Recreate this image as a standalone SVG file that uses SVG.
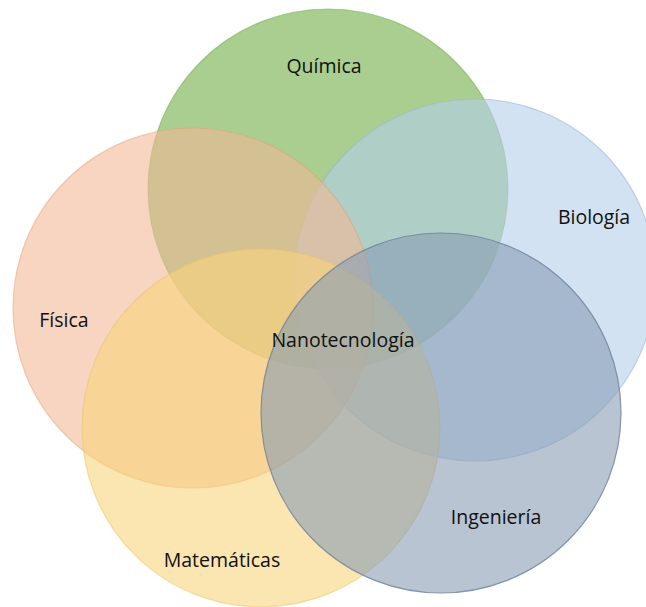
<svg xmlns="http://www.w3.org/2000/svg" width="646" height="607" viewBox="0 0 646 607">
  <style>
    .c { stroke-width: 1.2; }
    .lbl { font-family: "Open Sans", "Liberation Sans", sans-serif; font-size: 19.5px; fill: #111111; text-anchor: middle; }
  </style>
  <rect x="0" y="0" width="646" height="607" fill="#ffffff"/>
  <g id="nodes">
    <g id="quimica">
      <circle class="c" cx="328" cy="189" r="180" fill="#6FAD45" fill-opacity="0.6" stroke="#6FAD45" stroke-opacity="0.5"/>
    </g>
    <g id="biologia">
      <circle class="c" cx="475" cy="280" r="181" fill="#B4CFE9" fill-opacity="0.6" stroke="#9DB8D6" stroke-opacity="0.6"/>
    </g>
    <g id="fisica">
      <circle class="c" cx="193" cy="308" r="180" fill="#F2B996" fill-opacity="0.6" stroke="#E8A27A" stroke-opacity="0.5"/>
    </g>
    <g id="matematicas">
      <circle class="c" cx="261" cy="428" r="179" fill="#F8D47B" fill-opacity="0.6" stroke="#EBC56A" stroke-opacity="0.5"/>
    </g>
    <g id="ingenieria">
      <circle class="c" cx="441" cy="413" r="180" fill="#899DB4" fill-opacity="0.6" stroke="#6F8198" stroke-opacity="0.8"/>
    </g>
  </g>
  <g id="connectors"></g>
  <g id="labels">
    <text class="lbl" x="324" y="73">Química</text>
    <text class="lbl" x="594" y="224">Biología</text>
    <text class="lbl" x="64" y="327">Física</text>
    <text class="lbl" x="343" y="347">Nanotecnología</text>
    <text class="lbl" x="496" y="524">Ingeniería</text>
    <text class="lbl" x="222" y="567">Matemáticas</text>
  </g>
</svg>
